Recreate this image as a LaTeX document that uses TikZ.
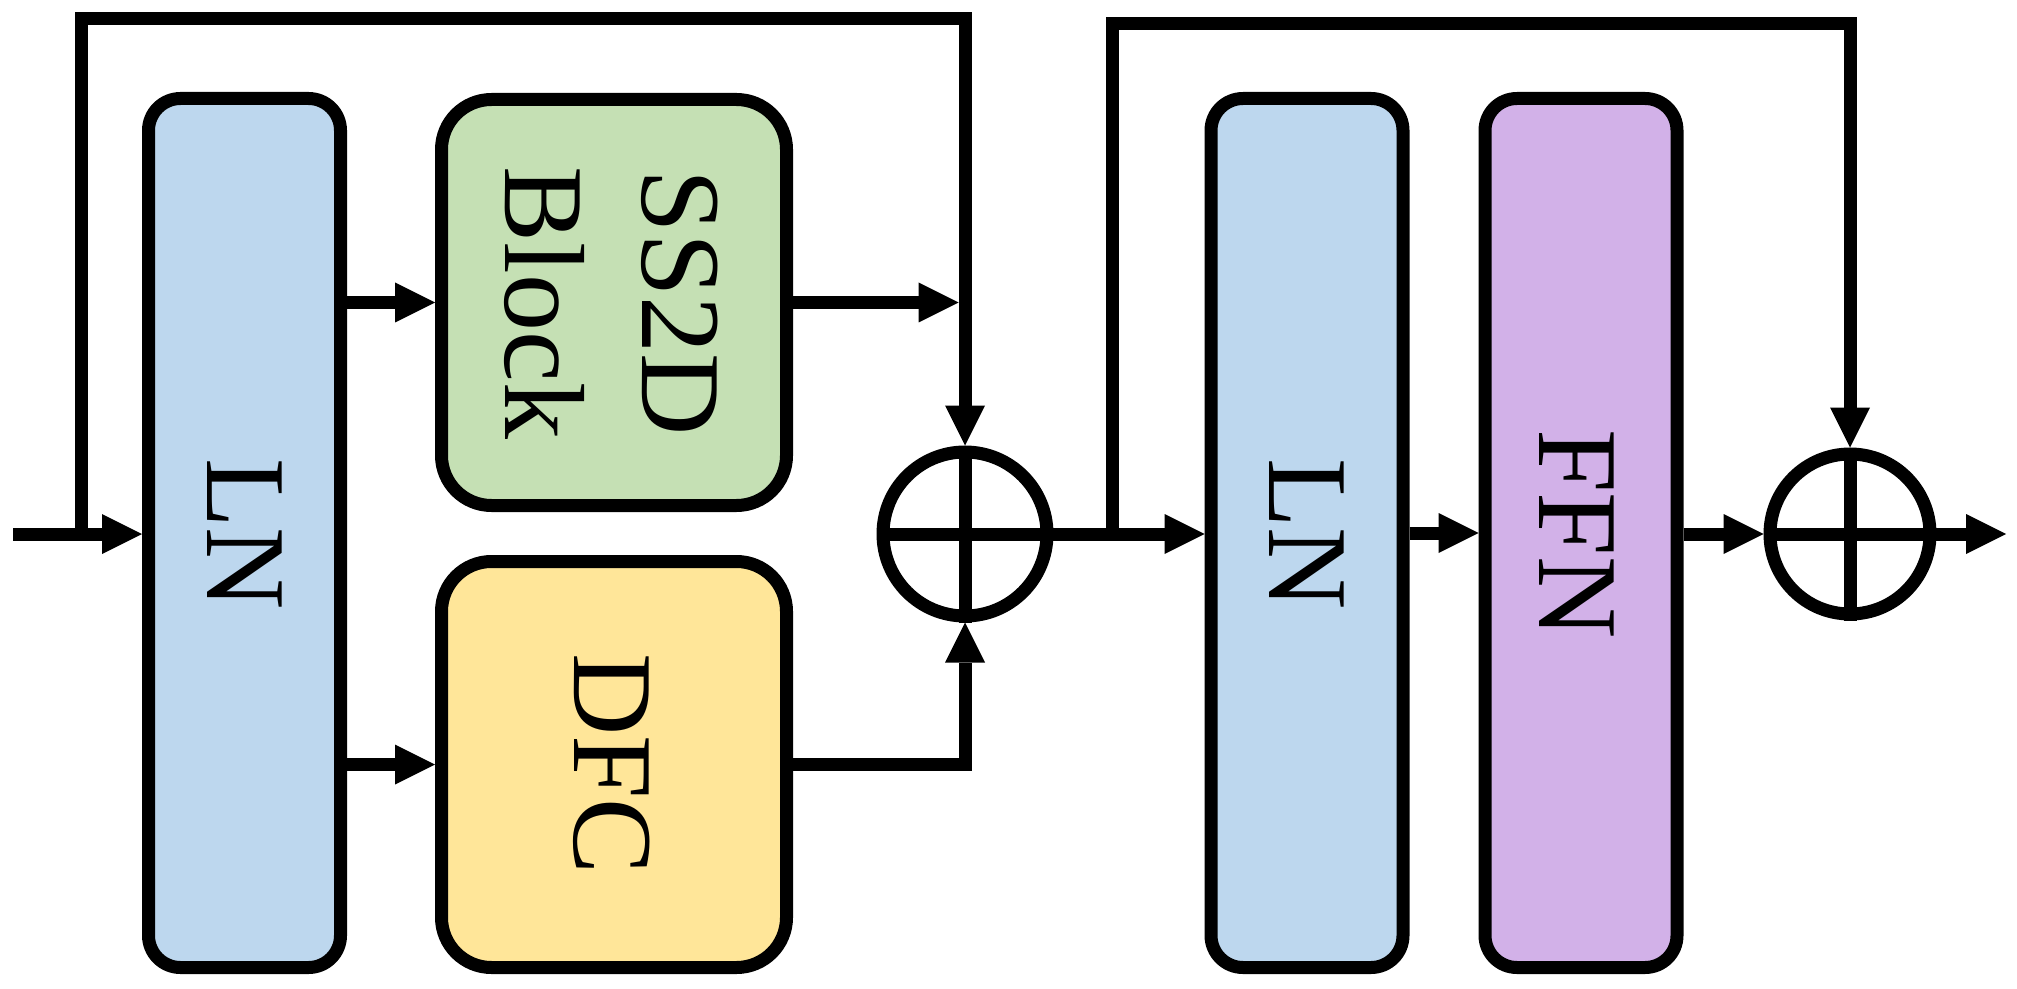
\documentclass[tikz,border=0pt]{standalone}
\usepackage{fontspec}
\setmainfont{Liberation Serif}
\usetikzlibrary{arrows.meta}
\definecolor{lnblue}{HTML}{BDD7EE}
\definecolor{ssgreen}{HTML}{C5E0B4}
\definecolor{dfcyellow}{HTML}{FFE699}
\definecolor{ffnpurple}{HTML}{D2B1E8}
\begin{document}
\begin{tikzpicture}[x=0.5pt,y=-0.5pt,line width=6.5pt,
  tallbox/.style={draw=black,rounded corners=16pt,inner sep=0pt,minimum width=96pt,minimum height=434.5pt},
  widebox/.style={draw=black,rounded corners=25pt,inner sep=0pt,minimum width=172.5pt,minimum height=203pt},
  lbl/.style={rotate=-90,align=center,inner sep=0pt,font=\fontsize{57pt}{68.5pt}\selectfont},
  sumc/.style={circle,draw=black,inner sep=0pt},
  arr/.style={-{Triangle[length=20pt,width=20pt,line width=0pt]}}]
\useasboundingbox (0,0) rectangle (2017,989);
% boxes
\node[tallbox,fill=lnblue] (ln1) at (244.5,533) {};
\node[lbl] (ln1t) at (244.5,534) {LN};
\node[widebox,fill=ssgreen] (ss) at (614,302.5) {};
\node[lbl] (sst) at (611,303) {SS2D\\Block};
\node[widebox,fill=dfcyellow] (dfc) at (614,764.5) {};
\node[lbl] (dfct) at (612,764) {DFC};
\node[sumc,minimum size=82pt] (c1) at (965,534) {};
\node[tallbox,fill=lnblue] (ln2) at (1307,533) {};
\node[lbl] (ln2t) at (1307,534) {LN};
\node[tallbox,fill=ffnpurple] (ffn) at (1581,533) {};
\node[lbl] (ffnt) at (1577,534) {FFN};
\node[sumc,minimum size=80pt] (c2) at (1850,534) {};
% plus signs
\draw (c1.north) -- (c1.south);
\draw (c1.west) -- (c1.east);
\draw (c2.north) -- (c2.south);
\draw (c2.west) -- (c2.east);
% coordinates
\coordinate (in) at (13,534);
\coordinate (s1) at (81,534);
\coordinate (top1) at (81,19);
\coordinate (s2) at (1112,534);
\coordinate (top2) at (1112,24);
\coordinate (out) at (2006,534);
% connectors
\draw[arr] (in) -- (in -| ln1.west);
\draw[arr] (s1) -- (top1) -| (c1.north);
\draw[arr] (ln1.east |- ss.west) -- (ss.west);
\draw[arr] (ln1.east |- dfc.west) -- (dfc.west);
\draw[arr,shorten >=3.25pt] (ss.east) -- (ss.east -| c1.center);
\draw[arr] (dfc.east) -| (c1.south);
\draw[arr] (c1.east) -- (c1.east -| ln2.west);
\draw[arr] (s2) -- (top2) -| (c2.north);
\draw[arr] (ln2.east) -- (ln2.east -| ffn.west);
\draw[arr] (ffn.east |- c2.west) -- (c2.west);
\draw[arr] (c2.east) -- (out);
\end{tikzpicture}
\end{document}
